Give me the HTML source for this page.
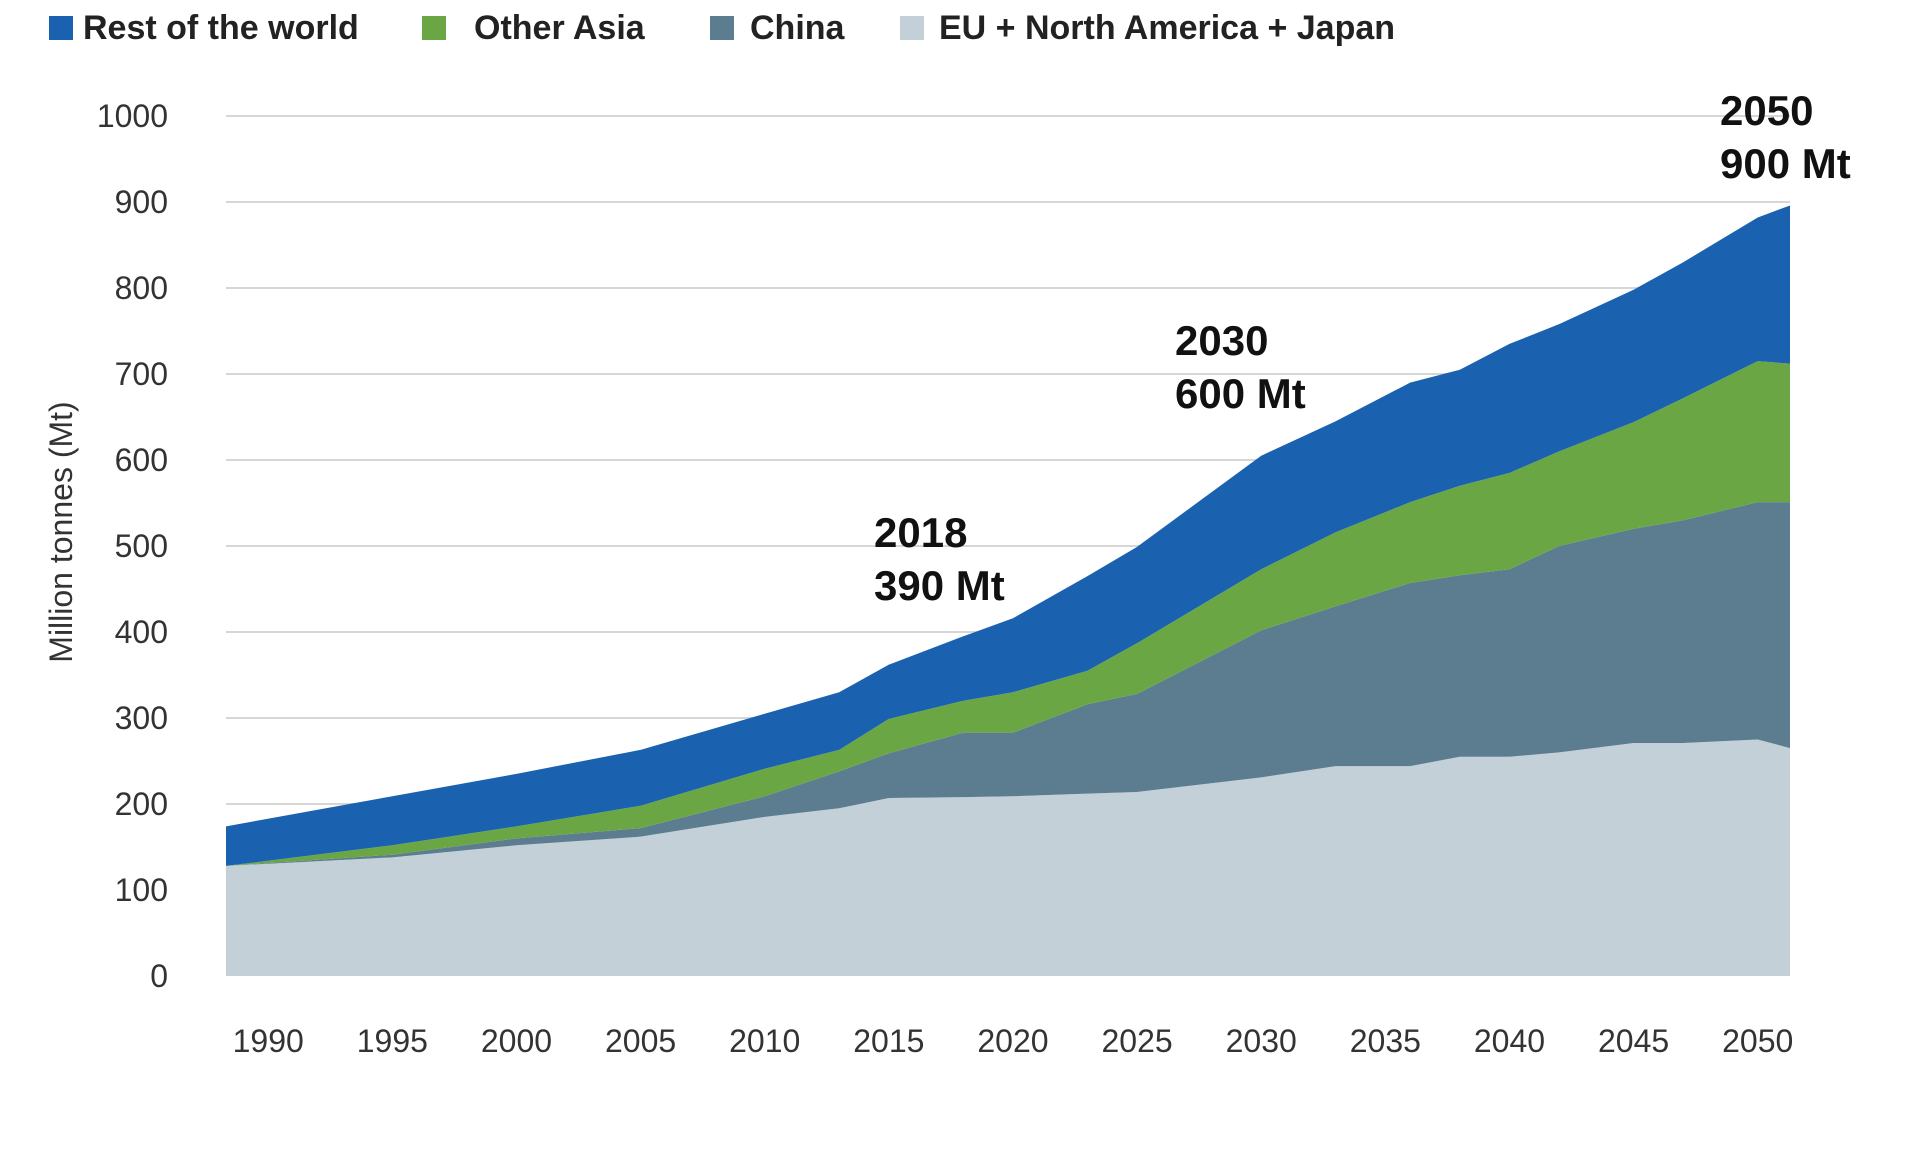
<!DOCTYPE html>
<html><head><meta charset="utf-8"><style>
html,body{margin:0;padding:0;background:#fff;}
svg{display:block;font-family:"Liberation Sans",sans-serif;}
</style></head><body>
<svg id="chart" width="1909" height="1159" viewBox="0 0 1909 1159" xmlns="http://www.w3.org/2000/svg">
<g id="legend" font-weight="bold" font-size="34" fill="#222">
 <g><rect x="49" y="16" width="24" height="24" fill="#1a62b0"/><text x="83" y="39">Rest of the world</text></g>
 <g><rect x="422" y="16" width="24" height="24" fill="#6aa744"/><text x="474" y="39">Other Asia</text></g>
 <g><rect x="710" y="16" width="24" height="24" fill="#5b7d8f"/><text x="750" y="39">China</text></g>
 <g><rect x="900" y="16" width="24" height="24" fill="#c3d0d8"/><text x="939" y="39">EU + North America + Japan</text></g>
</g>
<g id="grid"></g>
<g id="areas"></g>
<g id="yticks" font-size="32" fill="#333" text-anchor="end"></g>
<g id="xticks" font-size="32" fill="#333" text-anchor="middle"></g>
<text transform="translate(72,532) rotate(-90)" text-anchor="middle" font-size="32" fill="#333">Million tonnes (Mt)</text>
<g font-weight="bold" font-size="42" fill="#111">
 <text x="874" y="547">2018</text><text x="874" y="600">390 Mt</text>
 <text x="1175" y="355">2030</text><text x="1175" y="408">600 Mt</text>
 <text x="1720" y="125">2050</text><text x="1720" y="178">900 Mt</text>
</g>
</svg>
<script>
const years=[1988.3,1995,2000,2005,2010,2013,2015,2018,2020,2023,2025,2030,2033,2036,2038,2040,2042,2045,2047,2050,2051.3];
const euNaJapan=[128,138,152,162,185,195,207,208,209,212,214,231,244,244,255,255,260,271,271,275,265];
const china=[0,3,8,10,24,43,52,75,74,104,114,171,186,213,211,218,240,249,259,276,286];
const otherAsia=[0,11,14,26,32,25,40,37,47,39,59,71,86,94,104,112,110,124,142,164,161];
const restOfWorld=[46,57,61,65,64,67,63,75,86,110,112,132,129,139,135,150,148,154,158,167,184];
const yTicks=[0,100,200,300,400,500,600,700,800,900,1000];
const xTickLabels=[1990,1995,2000,2005,2010,2015,2020,2025,2030,2035,2040,2045,2050];
const NS="http://www.w3.org/2000/svg";
function x(yr){return 226+(yr-1988.3)*(1790-226)/(2051.3-1988.3);}
function y(v){return 976-v*0.86;}
const grid=document.getElementById('grid'),yt=document.getElementById('yticks'),xt=document.getElementById('xticks'),areas=document.getElementById('areas');
yTicks.forEach(t=>{
 if(t>0){const l=document.createElementNS(NS,'line');
 
 
 l.setAttribute('x1',226);l.setAttribute('x2',1790);l.setAttribute('y1',y(t));l.setAttribute('y2',y(t));
 l.setAttribute('stroke','#d6d6d6');l.setAttribute('stroke-width','2');grid.appendChild(l);}
 const tx=document.createElementNS(NS,'text');
 
 
 tx.setAttribute('x',168);tx.setAttribute('y',y(t)+11);tx.textContent=t;yt.appendChild(tx);
});
xTickLabels.forEach(t=>{
 const tx=document.createElementNS(NS,'text');
 
 
 tx.setAttribute('x',x(t));tx.setAttribute('y',1052);tx.textContent=t;xt.appendChild(tx);
});
const series=[[euNaJapan,'#c3d0d8','area-eu-na-japan'],[china,'#5b7d8f','area-china'],[otherAsia,'#6aa744','area-other-asia'],[restOfWorld,'#1a62b0','area-rest-of-world']];
let base=years.map(()=>0);
series.forEach(s=>{
 const top=base.map((b,i)=>b+s[0][i]);
 let d='M'+years.map((yr,i)=>x(yr)+','+y(top[i])).join(' L');
 for(let i=years.length-1;i>=0;i--)d+=' L'+x(years[i])+','+y(base[i]);
 d+=' Z';
 const p=document.createElementNS(NS,'path');
 
 
 p.setAttribute('d',d);p.setAttribute('fill',s[1]);areas.appendChild(p);
 base=top;
});
</script>
</body></html>
